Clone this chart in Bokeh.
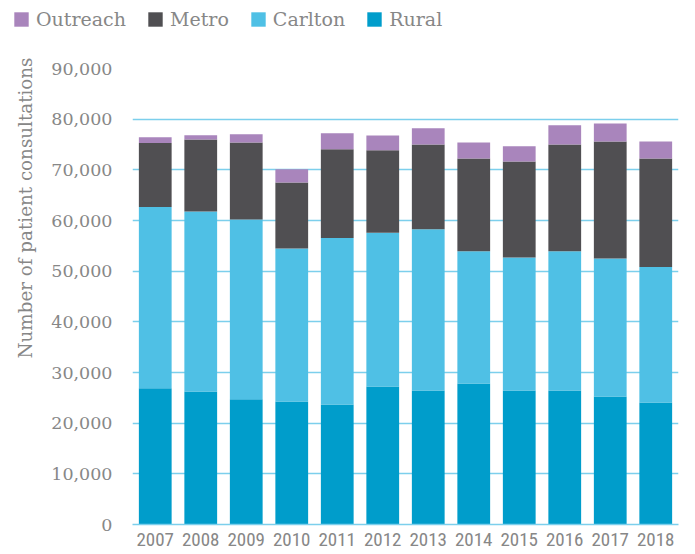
from bokeh.plotting import figure
from bokeh.models import (ColumnDataSource, FactorRange, Range1d, FixedTicker,
                          NumeralTickFormatter, Legend, LegendItem, Title)
from bokeh.embed import file_html
from bokeh.resources import INLINE

years = ["2007", "2008", "2009", "2010", "2011", "2012",
         "2013", "2014", "2015", "2016", "2017", "2018"]
rural = [26900, 26250, 24700, 24300, 23700, 27250, 26450, 27850, 26450, 26450, 25250, 24100]
carlton = [35750, 35550, 35500, 30150, 32850, 30350, 31800, 26100, 26250, 27500, 27250, 26700]
metro = [12650, 14200, 15200, 13050, 17500, 16250, 16750, 18300, 18950, 21050, 23100, 21450]
outreach = [1150, 850, 1600, 2600, 3150, 2950, 3200, 3150, 3000, 3800, 3550, 3350]

series = ["Rural", "Carlton", "Metro", "Outreach"]
colors = ["#009DCB", "#4FC0E5", "#504F52", "#A985BC"]
y_ticks = list(range(0, 90001, 10000))

source = ColumnDataSource(dict(year=years, Rural=rural, Carlton=carlton,
                               Metro=metro, Outreach=outreach))

TEXT = "#878787"
GRID = "#7CCFEC"
SLAB = "DejaVu Serif"

# ---- legend strip (top), a separate root so its frame spans the full width ----
lg = figure(width=695, height=42, output_backend="svg", toolbar_location=None,
            x_range=FactorRange(factors=years), y_range=Range1d(0, 90000),
            min_border=0, min_border_left=0, min_border_right=0,
            min_border_top=0, min_border_bottom=0)
lg.axis.visible = False
lg.grid.visible = False
lg.outline_line_color = None
leg_renderers = lg.vbar_stack(series, x="year", width=0.72, color=colors,
                              source=source, line_color=None)
for r in leg_renderers:
    r.visible = False
items = [LegendItem(label=name, renderers=[r])
         for name, r in zip(series[::-1], leg_renderers[::-1])]
legend = Legend(items=items, orientation="horizontal", location=(12, 12),
                padding=0, margin=0, spacing=20, label_standoff=6,
                glyph_width=18, glyph_height=18, label_height=18,
                label_text_font=SLAB, label_text_font_size="19px",
                label_text_color=TEXT, border_line_color=None,
                background_fill_alpha=0, inactive_fill_alpha=0,
                click_policy="none")
lg.add_layout(legend, "center")

# ---- main chart ----
p = figure(x_range=FactorRange(factors=years), y_range=Range1d(0, 90000),
           width=695, height=512, output_backend="svg", toolbar_location=None,
           min_border_left=129, min_border_right=17, min_border_top=26,
           min_border_bottom=30)

p.vbar_stack(series, x="year", width=0.72, color=colors,
             source=source, line_color=None)

p.outline_line_color = None
p.xgrid.grid_line_color = None
p.ygrid.grid_line_color = GRID
p.ygrid.grid_line_width = 1.5
p.ygrid.ticker = FixedTicker(ticks=y_ticks)

p.yaxis.ticker = FixedTicker(ticks=y_ticks)
p.yaxis.formatter = NumeralTickFormatter(format="0,0")
p.yaxis.axis_line_color = None
p.yaxis.major_tick_line_color = None
p.yaxis.minor_tick_line_color = None
p.yaxis.major_tick_in = 0
p.yaxis.major_tick_out = 0
p.yaxis.major_label_standoff = 20
p.yaxis.major_label_text_font = SLAB
p.yaxis.major_label_text_font_size = "17.5px"
p.yaxis.major_label_text_color = TEXT

p.xaxis.axis_line_color = GRID
p.xaxis.axis_line_width = 1.5
p.xaxis.major_tick_line_color = None
p.xaxis.major_tick_in = 0
p.xaxis.major_tick_out = 0
p.xaxis.major_label_standoff = 8
p.xaxis.major_label_text_font = "Liberation Sans Narrow, Roboto Condensed, Liberation Sans"
p.xaxis.major_label_text_font_size = "19px"
p.xaxis.major_label_text_color = TEXT

ytitle = Title(text="Number of patient consultations", align="right", offset=-11,
               text_font=SLAB, text_font_size="18.3px", text_font_style="normal",
               text_color=TEXT, standoff=25)
p.add_layout(ytitle, "left")

open("out.html", "w").write(file_html([lg, p], INLINE))
